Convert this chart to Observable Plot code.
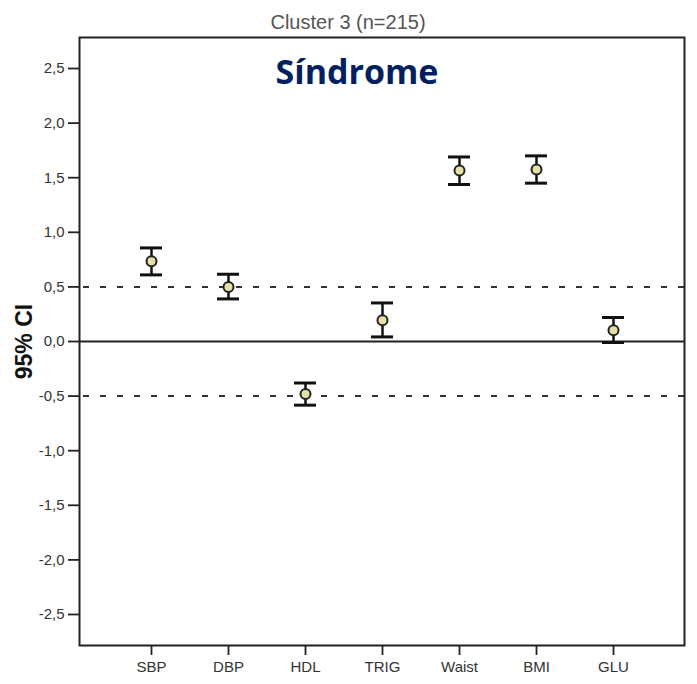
<!DOCTYPE html>
<html>
<head>
<meta charset="utf-8">
<script src="https://cdn.jsdelivr.net/npm/d3@7"></script>
<script src="https://cdn.jsdelivr.net/npm/@observablehq/plot@0.6"></script>
<style>
  html, body { margin: 0; padding: 0; background: #fff; }
</style>
</head>
<body>
<div id="chart"></div>
<script>
const categories = ["SBP", "DBP", "HDL", "TRIG", "Waist", "BMI", "GLU"];
const means = [0.735, 0.50, -0.48, 0.195, 1.566, 1.575, 0.103];
const lower = [0.61, 0.39, -0.583, 0.042, 1.438, 1.45, -0.009];
const upper = [0.857, 0.616, -0.38, 0.353, 1.69, 1.70, 0.22];
const yTicks = [-2.5, -2.0, -1.5, -1.0, -0.5, 0.0, 0.5, 1.0, 1.5, 2.0, 2.5];
const refDashed = [0.5, -0.5];
const refSolid = [0];
const title = "Cluster 3 (n=215)";
const overlay = "Síndrome";
const yLabel = "95% CI";

const data = categories.map((c, i) => ({cat: c, mean: means[i], lo: lower[i], hi: upper[i]}));
const fmt = v => v.toFixed(1).replace(".", ",");

const chart = Plot.plot({
  width: 697,
  height: 684,
  marginLeft: 79,
  marginRight: 13,
  marginTop: 37,
  marginBottom: 39,
  style: {fontFamily: "'Liberation Sans', Arial, sans-serif", fontSize: "15px", background: "#fff", color: "#333"},
  x: {type: "band", domain: categories, paddingInner: 0.72, paddingOuter: 0.756},
  y: {domain: [-2.784, 2.784]},
  marks: [
    Plot.ruleY(refDashed, {stroke: "#333", strokeWidth: 2, strokeDasharray: "6,11", strokeDashoffset: -4}),
    Plot.ruleY(refSolid, {stroke: "#222", strokeWidth: 1.8}),
    Plot.frame({stroke: "#222", strokeWidth: 2}),
    Plot.axisY({ticks: yTicks, tickFormat: fmt, tickSize: 11, tickPadding: 4, label: null, fontSize: 15, stroke: "#222", strokeWidth: 1.8, fill: "#333"}),
    Plot.axisX({tickSize: 10, tickPadding: 6, label: null, fontSize: 15, stroke: "#222", strokeWidth: 1.8, fill: "#333"}),
    Plot.ruleX(data, {x: "cat", y1: "lo", y2: "hi", stroke: "#111", strokeWidth: 2.5}),
    Plot.tickY(data, {x: "cat", y: "lo", stroke: "#111", strokeWidth: 3}),
    Plot.tickY(data, {x: "cat", y: "hi", stroke: "#111", strokeWidth: 3}),
    Plot.dot(data, {x: "cat", y: "mean", r: 5, fill: "#e6e0a6", stroke: "#222", strokeWidth: 2}),
    Plot.text([title], {frameAnchor: "top", textAnchor: "middle", dx: -34, dy: -15, fontSize: 20, fill: "#555", lineAnchor: "middle"}),
    Plot.text([overlay], {frameAnchor: "top", textAnchor: "middle", dx: -25, dy: 36, fontSize: 34, fontWeight: "bold", fill: "#002060", lineAnchor: "middle", fontFamily: "'Open Sans', sans-serif"}),
    Plot.text([yLabel], {frameAnchor: "left", textAnchor: "middle", dx: -55, rotate: -90, fontSize: 23, fontWeight: "bold", fill: "#111", lineAnchor: "middle"})
  ]
});
document.getElementById("chart").appendChild(chart);
</script>
</body>
</html>
